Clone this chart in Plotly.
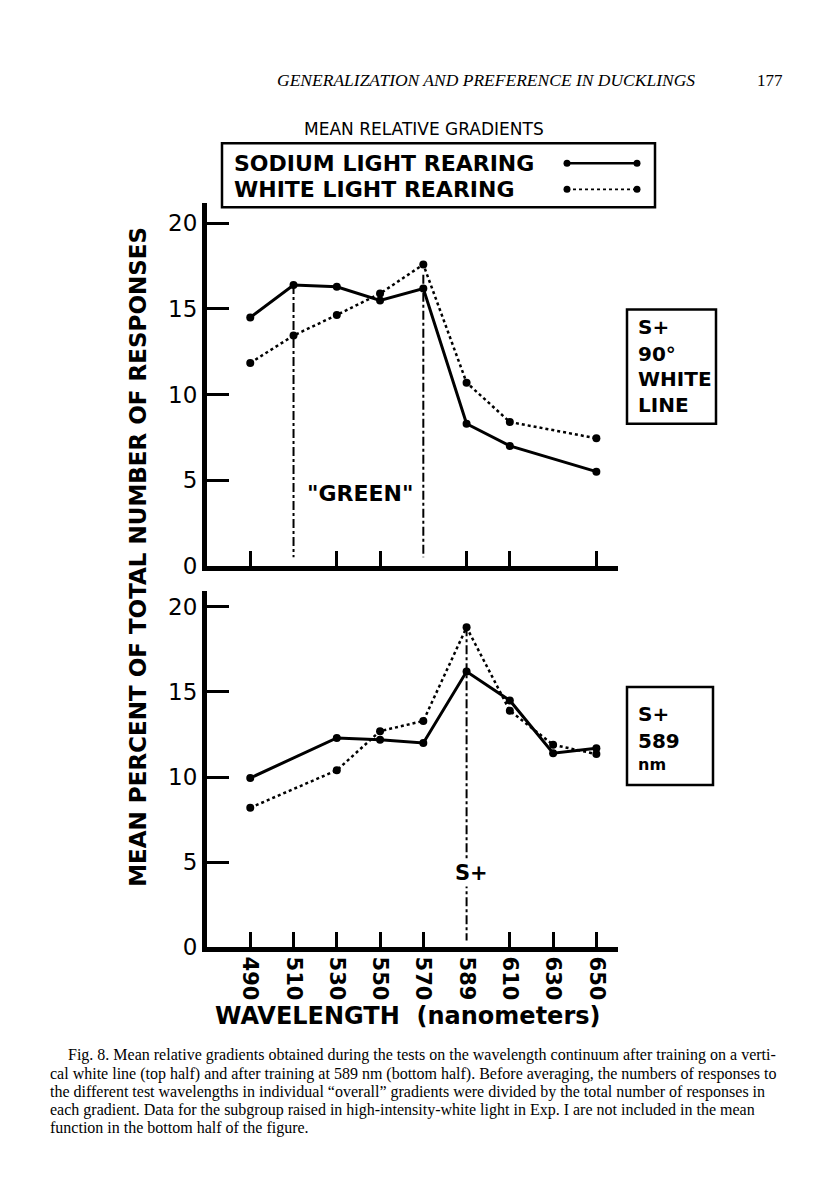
import plotly.graph_objects as go

PAGE_W, PAGE_H = 816, 1193
OFF = 8  # page body margin
W, H = PAGE_W - 2 * OFF, PAGE_H - 2 * OFF
VS = 1.0125  # empirical vertical correction of the photograph

wavelengths = ["490", "510", "530", "550", "570", "589", "610", "630", "650"]

# Top half: S+ = 90 deg white line (630 not tested)
top_sodium = [14.5, 16.4, 16.3, 15.5, 16.2, 8.3, 7.0, None, 5.5]
top_white = [11.85, 13.45, 14.65, 15.9, 17.6, 10.7, 8.4, None, 7.45]

# Bottom half: S+ = 589 nm (510 not tested)
bot_sodium = [9.95, None, 12.3, 12.2, 12.0, 16.2, 14.5, 11.4, 11.7]
bot_white = [8.2, None, 10.4, 12.7, 13.3, 18.8, 13.9, 11.9, 11.35]

y_ticks = [0, 5, 10, 15, 20]

FONT = "DejaVu Sans"
SERIF = "Liberation Serif"

def px(x):
    return (x - OFF) / W

def py(y):
    return 1 - (y * VS - OFF) / H

xi = list(range(len(wavelengths)))

fig = go.Figure()

def add_series(vals, xa, ya, dotted):
    fig.add_trace(go.Scatter(
        x=xi, y=vals, xaxis=xa, yaxis=ya, mode="lines+markers",
        connectgaps=True,
        line=dict(color="black", width=2.5 if dotted else 3, dash="dot" if dotted else "solid"),
        marker=dict(color="black", size=8),
        showlegend=False, hoverinfo="skip"))

add_series(top_sodium, "x", "y", False)
add_series(top_white, "x", "y", True)
add_series(bot_sodium, "x2", "y2", False)
add_series(bot_white, "x2", "y2", True)

axis_common = dict(range=[-1, 8.5], showline=True, linewidth=5, linecolor="black",
                   showgrid=False, zeroline=False, domain=[px(207), px(618)])
yfont = dict(family=FONT, size=23, color="black")
fig.update_layout(
    width=W, height=H, margin=dict(l=0, r=0, t=0, b=0),
    paper_bgcolor="white", plot_bgcolor="white",
    xaxis=dict(**axis_common, anchor="y", showticklabels=False,
               tickmode="array", tickvals=[0, 2, 3, 5, 6, 8],
               ticks="inside", ticklen=15, tickwidth=3, tickcolor="black"),
    xaxis2=dict(**axis_common, anchor="y2",
                tickmode="array", tickvals=xi, ticktext=[f"<b>{w}</b>" for w in wavelengths],
                ticks="", tickangle=90,
                tickfont=dict(family=FONT, size=21, color="black"),
                minor=dict(tickmode="array", tickvals=[0, 1, 2, 3, 4, 6, 7, 8],
                           ticks="inside", ticklen=15, tickwidth=3, tickcolor="black")),
    yaxis=dict(range=[0, 21.17], domain=[py(565), py(203)], anchor="x",
               showline=True, linewidth=5, linecolor="black", showgrid=False, zeroline=False,
               tickmode="array", tickvals=y_ticks, ticktext=[str(v) for v in y_ticks],
               ticks="inside", ticklen=22, tickwidth=2.5, tickcolor="black",
               tickfont=yfont),
    yaxis2=dict(range=[0, 20.94], domain=[py(946), py(590)], anchor="x2",
                showline=True, linewidth=5, linecolor="black", showgrid=False, zeroline=False,
                tickmode="array", tickvals=y_ticks, ticktext=[str(v) for v in y_ticks],
                ticks="inside", ticklen=22, tickwidth=2.5, tickcolor="black",
                tickfont=yfont),
)

shapes = []
# dash-dot reference lines
shapes.append(dict(type="line", xref="x", yref="y", x0=1, x1=1, y0=top_sodium[1], y1=0.5,
                   line=dict(color="black", width=2, dash="dashdot")))
shapes.append(dict(type="line", xref="x", yref="y", x0=4, x1=4, y0=17.0, y1=0.5,
                   line=dict(color="black", width=2, dash="dashdot")))
shapes.append(dict(type="line", xref="x2", yref="y2", x0=5, x1=5, y0=bot_white[5], y1=0.4,
                   line=dict(color="black", width=2, dash="dashdot")))

# legend box
shapes.append(dict(type="rect", xref="paper", yref="paper", x0=px(222), x1=px(655), y0=py(207), y1=py(143),
                   line=dict(color="black", width=2.5)))
shapes.append(dict(type="line", xref="paper", yref="paper", x0=px(567), x1=px(637), y0=py(163), y1=py(163),
                   line=dict(color="black", width=2.5)))
shapes.append(dict(type="line", xref="paper", yref="paper", x0=px(567), x1=px(637), y0=py(189), y1=py(189),
                   line=dict(color="black", width=1.8, dash="dot")))
for xx in (567, 637):
    for yy in (163, 189):
        shapes.append(dict(type="circle", xref="paper", yref="paper",
                           x0=px(xx - 3.5), x1=px(xx + 3.5), y0=py(yy + 3.5), y1=py(yy - 3.5),
                           fillcolor="black", line=dict(color="black", width=0)))
# condition boxes
shapes.append(dict(type="rect", xref="paper", yref="paper", x0=px(627), x1=px(716), y0=py(423), y1=py(309),
                   line=dict(color="black", width=2.5)))
shapes.append(dict(type="rect", xref="paper", yref="paper", x0=px(627), x1=px(713), y0=py(784), y1=py(686),
                   line=dict(color="black", width=2.5)))
fig.update_layout(shapes=shapes)

ann = []
def text(x, y, s, size, family=FONT, xanchor="center", angle=0, bg=None):
    d = dict(x=px(x), y=py(y), xref="paper", yref="paper", text=s, showarrow=False,
             xanchor=xanchor, yanchor="middle", textangle=angle,
             font=dict(family=family, size=size, color="black"))
    if bg:
        d["bgcolor"] = bg
    ann.append(d)

text(486, 80, "<i>GENERALIZATION AND PREFERENCE IN DUCKLINGS</i>", 17.5, SERIF)
text(770, 80, "177", 17, SERIF)
text(424, 129, "MEAN RELATIVE GRADIENTS", 17)
text(232, 163, "<b>SODIUM LIGHT REARING</b>", 22, xanchor="left")
text(232, 189, "<b>WHITE LIGHT REARING</b>", 22, xanchor="left")
text(138, 556, "<b>MEAN PERCENT OF TOTAL NUMBER OF RESPONSES</b>", 23, angle=-90)
text(407, 1015, "<b>WAVELENGTH  (nanometers)</b>", 24)
text(360, 493, "<b>\"GREEN\"</b>", 22)
text(472, 872, "<b>S+</b>", 21, bg="white")
for s, yy in (("S+", 326), ("90°", 353), ("WHITE", 378), ("LINE", 404)):
    text(636, yy, f"<b>{s}</b>", 20, xanchor="left")
text(636, 713, "<b>S+</b>", 20, xanchor="left")
text(636, 740, "<b>589</b>", 20, xanchor="left")
text(636, 763, "<b>nm</b>", 16, xanchor="left")

caption = [
    (66, "Fig. 8. Mean relative gradients obtained during the tests on the wavelength continuum after training on a verti-"),
    (48, "cal white line (top half) and after training at 589 nm (bottom half). Before averaging, the numbers of responses to"),
    (48, "the different test wavelengths in individual \u201coverall\u201d gradients were divided by the total number of responses in"),
    (48, "each gradient. Data for the subgroup raised in high-intensity-white light in Exp. I are not included in the mean"),
    (48, "function in the bottom half of the figure."),
]
for i, (x0, line) in enumerate(caption):
    text(x0, 1054 + 18 * i, line, 16, SERIF, xanchor="left")

fig.update_layout(annotations=ann)
fig.write_html("out.html")
